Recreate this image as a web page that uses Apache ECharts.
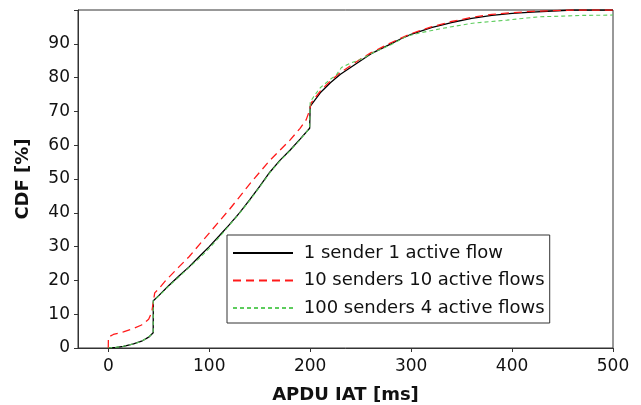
<!DOCTYPE html>
<html>
<head>
<meta charset="utf-8">
<script src="https://cdn.jsdelivr.net/npm/echarts@6/dist/echarts.min.js"></script>
<style>html,body{margin:0;padding:0;background:#fff}#c{width:641px;height:405px}</style>
</head>
<body>
<div id="c"></div>
<script>
// Series names
const seriesNames = ['1 sender 1 active flow', '10 senders 10 active flows', '100 senders 4 active flows'];

// 1 sender 1 active flow
const blackX = [0, 8, 15, 25, 33, 40, 44.5, 44.6, 50, 60, 70, 80, 90, 100, 110, 120, 130, 140, 150, 160, 170, 180, 190, 199.5, 200, 205, 210, 220, 230, 240, 250, 260, 270, 280, 290, 300, 320, 340, 360, 380, 400, 420, 440, 460, 500];
const blackY = [0, 0.2, 0.5, 1.2, 2, 3.2, 4.5, 14, 15.5, 18.5, 21.3, 24, 27, 30, 33.2, 36.5, 40, 43.8, 47.8, 52, 55.5, 58.5, 61.8, 65, 71.5, 73.5, 75.5, 78.5, 81, 83, 85, 87, 88.5, 90, 91.5, 92.8, 94.8, 96.3, 97.5, 98.4, 99, 99.4, 99.7, 100, 100];

// 10 senders 10 active flows
const redX = [0, 0.1, 5, 15, 25, 33, 40, 43, 46, 50, 57, 70, 80, 90, 100, 110, 120, 130, 140, 150, 160, 170, 180, 190, 196, 199.5, 201, 210, 220, 230, 240, 250, 260, 270, 280, 290, 300, 320, 340, 360, 380, 400, 420, 440, 460, 500];
const redY = [0, 3.2, 4, 4.8, 5.8, 6.8, 8.5, 10.5, 16.3, 17.5, 20, 24, 27, 30.5, 34, 37.5, 41, 44.7, 48.5, 52, 55.5, 58.5, 61.5, 65, 67.5, 70.4, 72.5, 76, 79, 81.5, 83.5, 85.5, 87.3, 88.8, 90.3, 91.7, 93, 95, 96.6, 97.8, 98.7, 99.2, 99.6, 99.8, 100, 100];

// 100 senders 4 active flows
const greenX = [0, 8, 15, 25, 33, 40, 44.5, 44.6, 50, 60, 70, 80, 90, 100, 110, 120, 130, 140, 150, 160, 170, 180, 190, 199.5, 200, 205, 210, 220, 226, 231, 240, 251, 260, 270, 280, 296, 310, 328, 345, 361, 380, 395, 410, 428, 450, 470, 500];
const greenY = [0, 0.2, 0.5, 1.2, 2, 3.3, 4.5, 14, 15.3, 18.3, 21, 23.8, 26.5, 29.5, 32.8, 36.3, 39.8, 43.6, 47.6, 51.8, 55.3, 58.3, 61.6, 65, 72.8, 75, 77, 79.5, 80.8, 83, 84.3, 85.5, 87, 88.4, 89.7, 92.3, 93.3, 94.4, 95.3, 96.1, 96.6, 97, 97.5, 98, 98.2, 98.4, 98.5];

// Axis ticks
const xTicks = [0, 100, 200, 300, 400, 500];
const yTicks = [0, 10, 20, 30, 40, 50, 60, 70, 80, 90];

const zip = (xs, ys) => xs.map((x, i) => [x, ys[i]]);

const chart = echarts.init(document.getElementById('c'), null, {renderer: 'canvas'});
const font = 'DejaVu Sans';
chart.setOption({
  animation: false,
  backgroundColor: '#fff',
  grid: {left: 78, right: 28, top: 10, bottom: 57, outerBoundsMode: 'none', containLabel: false,
         show: true, borderColor: '#333', borderWidth: 1, backgroundColor: 'transparent'},
  legend: {
    orient: 'vertical', left: 227, top: 235,
    borderColor: '#333', borderWidth: 1, backgroundColor: '#fff',
    padding: [9, 5, 6, 5], itemGap: 9.5, itemWidth: 60, itemHeight: 18,
    itemStyle: {opacity: 0},
    formatter: n => ' ' + n,
    textStyle: {fontFamily: font, fontSize: 18, color: '#111'},
    data: seriesNames
  },
  xAxis: {
    type: 'value', min: -30, max: 500,
    splitLine: {show: false},
    axisLine: {onZero: false, lineStyle: {color: '#333', width: 1}},
    axisTick: {show: true, length: 4, inside: false, customValues: xTicks, lineStyle: {color: '#333'}},
    axisLabel: {customValues: xTicks, fontFamily: font, fontSize: 17, color: '#111', margin: 10},
    name: 'APDU IAT [ms]', nameLocation: 'middle', nameGap: 38,
    nameTextStyle: {fontFamily: font, fontSize: 18, fontWeight: 'bold', color: '#111'}
  },
  yAxis: {
    type: 'value', min: 0, max: 100, interval: 10,
    splitLine: {show: false},
    axisLine: {show: true, onZero: false, lineStyle: {color: '#333', width: 1}},
    axisTick: {show: true, length: 4, inside: false, lineStyle: {color: '#333'}},
    axisLabel: {customValues: yTicks, fontFamily: font, fontSize: 17, color: '#111', margin: 8},
    name: 'CDF [%]', nameLocation: 'middle', nameGap: 46,
    nameTextStyle: {fontFamily: font, fontSize: 18, fontWeight: 'bold', color: '#111'}
  },
  series: [
    {name: seriesNames[0], type: 'line', data: zip(blackX, blackY), symbol: 'none', z: 3,
     lineStyle: {color: '#000', width: 1.3, type: 'solid'}, itemStyle: {color: '#000', opacity: 0}},
    {name: seriesNames[1], type: 'line', data: zip(redX, redY), symbol: 'none', z: 4,
     lineStyle: {color: '#ff1a1a', width: 1.3, type: [8, 5]}, itemStyle: {color: '#ff1a1a', opacity: 0}},
    {name: seriesNames[2], type: 'line', data: zip(greenX, greenY), symbol: 'none', z: 5,
     lineStyle: {color: '#5ccc5c', width: 1.1, type: [4, 3]}, itemStyle: {color: '#5ccc5c', opacity: 0}}
  ]
});
</script>
</body>
</html>
